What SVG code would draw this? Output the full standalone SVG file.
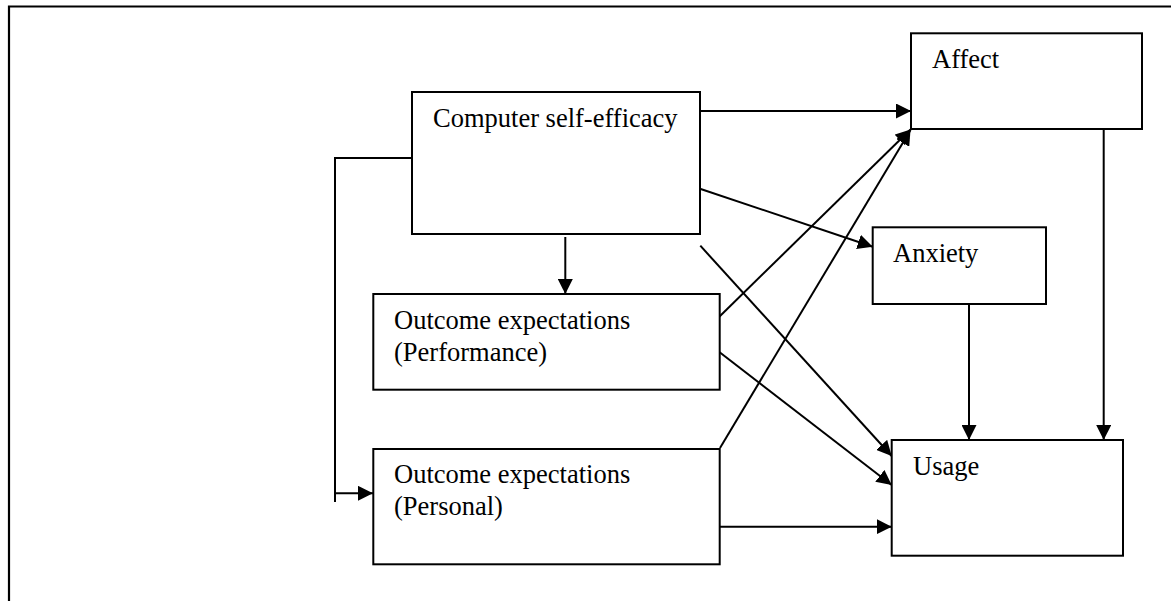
<svg xmlns="http://www.w3.org/2000/svg" width="1171" height="601" viewBox="0 0 1171 601">
<style>
.box{fill:#fff;stroke:#000;stroke-width:2}
.lbl{font-family:"Liberation Serif","Times New Roman",serif;font-size:26.5px;fill:#000}
.ln{fill:none;stroke:#000;stroke-width:2}
.ar{fill:none;stroke:#000;stroke-width:2;marker-end:url(#ah)}
</style>
<defs>
<marker id="ah" markerUnits="userSpaceOnUse" markerWidth="16" markerHeight="15" refX="15" refY="7.5" orient="auto">
<path d="M0,0 L15,7.5 L0,15 z" fill="#000"/>
</marker>
</defs>
<rect width="1171" height="601" fill="#fff"/>
<path d="M9,601 V6.5 H1171" fill="none" stroke="#000" stroke-width="2.2"/>
<g id="connectors">
<path class="ar" d="M700,111 H911"/>
<path class="ar" d="M700.7,189 L872.7,246.7"/>
<path class="ar" d="M565.3,237 V294"/>
<path class="ar" d="M700.3,245.7 L891.7,456"/>
<path class="ln" d="M412,158 H335 V502"/>
<path class="ar" d="M335,493.3 H373"/>
<path class="ar" d="M719.3,316.7 L910.5,129.5"/>
<path class="ar" d="M719.3,352 L891.7,485"/>
<path class="ar" d="M720,448 L910.5,130"/>
<path class="ar" d="M720,526.7 H891.7"/>
<path class="ar" d="M969,304 V440"/>
<path class="ar" d="M1103.7,129 V440"/>
</g>
<g id="cse">
<rect class="box" x="412" y="92" width="288" height="142"/>
<text class="lbl" x="433" y="127">Computer self-efficacy</text>
</g>
<g id="perf">
<rect class="box" x="373.3" y="294" width="346.4" height="95.7"/>
<text class="lbl" x="394" y="329">Outcome expectations</text>
<text class="lbl" x="394" y="361">(Performance)</text>
</g>
<g id="personal">
<rect class="box" x="373.3" y="449" width="346.4" height="115.3"/>
<text class="lbl" x="394" y="483">Outcome expectations</text>
<text class="lbl" x="394" y="515">(Personal)</text>
</g>
<g id="affect">
<rect class="box" x="911" y="33.3" width="231" height="95.7"/>
<text class="lbl" x="932" y="68">Affect</text>
</g>
<g id="anxiety">
<rect class="box" x="872.7" y="227.3" width="173.3" height="76.7"/>
<text class="lbl" x="893" y="262">Anxiety</text>
</g>
<g id="usage">
<rect class="box" x="891.7" y="440" width="231.3" height="115.7"/>
<text class="lbl" x="913" y="475">Usage</text>
</g>
</svg>
